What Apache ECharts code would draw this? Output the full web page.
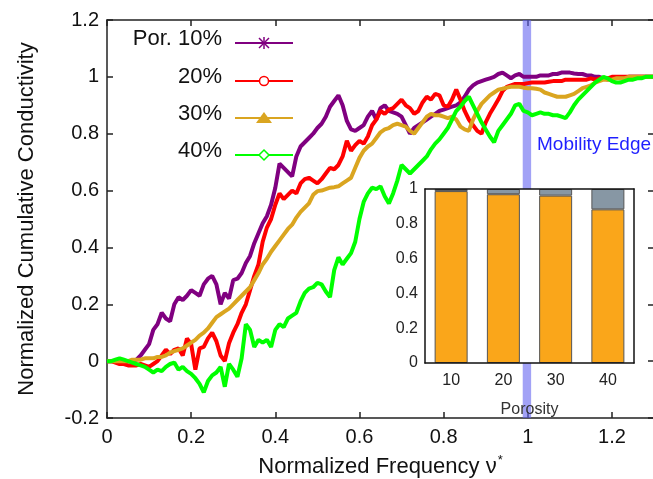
<!DOCTYPE html>
<html>
<head>
<meta charset="utf-8">
<script src="https://cdn.jsdelivr.net/npm/echarts@6/dist/echarts.min.js"></script>
<style>
html, body { margin: 0; padding: 0; background: #fff; }
#chart { width: 653px; height: 479px; }
</style>
</head>
<body>
<div id="chart"></div>
<script>
// 横轴: 归一化频率 0 ~ 1.3, 步长 0.01
var freq = [];
for (var i = 0; i <= 130; i++) {
    freq.push(i / 100);
}

// 各孔隙率的累积电导率曲线
var por10 = [0, 0, 0, 0, 0, 0, 0,
    0.005, 0.02, 0.04, 0.06, 0.11, 0.13, 0.17, 0.15, 0.14, 0.20, 0.225, 0.215, 0.23,
    0.25, 0.24, 0.23, 0.27, 0.29, 0.30, 0.27, 0.20, 0.24, 0.22, 0.285, 0.29, 0.31,
    0.345, 0.37, 0.415, 0.45, 0.485, 0.51, 0.55, 0.61, 0.695, 0.68, 0.665, 0.65,
    0.72, 0.755, 0.77, 0.785, 0.80, 0.82, 0.835, 0.86, 0.895, 0.915, 0.935, 0.90,
    0.845, 0.815, 0.81, 0.82, 0.83, 0.86, 0.88, 0.85, 0.89, 0.90, 0.88, 0.875,
    0.87, 0.86, 0.83, 0.80, 0.82, 0.83, 0.84, 0.85, 0.86, 0.87, 0.88, 0.885, 0.89,
    0.895, 0.90, 0.91, 0.93, 0.955, 0.97, 0.98, 0.985, 0.99, 0.995, 1.0, 1.01,
    1.015, 1.005, 0.995, 1.005, 1.01, 1.0, 1.0, 1.0, 1.0, 1.005, 1.005, 1.005,
    1.01, 1.01, 1.015, 1.015, 1.015, 1.012, 1.01, 1.01, 1.005, 1.005, 1.0, 1.0,
    0.995, 0.99, 0.995, 1.0, 0.995, 0.995,
    1.0, 1.0, 1.0, 1.0, 1.0, 1.0, 1.0];
var por20 = [0, 0, -0.005, -0.01, -0.01, -0.015, -0.015, -0.015, -0.01, -0.015,
    -0.02, -0.01, 0.0, 0.02, 0.04, 0.025, 0.04, 0.045, 0.02, 0.08, 0.06, -0.03,
    0.045, 0.05, 0.08, 0.10, 0.07, 0.02, 0.0, 0.063, 0.10, 0.13, 0.17, 0.20, 0.25,
    0.30, 0.34, 0.42, 0.47, 0.50, 0.55, 0.59, 0.57, 0.585, 0.60, 0.59, 0.625, 0.64,
    0.645, 0.635, 0.625, 0.64, 0.66, 0.68, 0.675, 0.69, 0.72, 0.775, 0.74, 0.76,
    0.775, 0.765, 0.79, 0.83, 0.85, 0.88, 0.87, 0.885, 0.89, 0.905, 0.92, 0.90,
    0.89, 0.87, 0.88, 0.91, 0.93, 0.92, 0.94, 0.935, 0.90, 0.895, 0.92, 0.955,
    0.92, 0.88, 0.85, 0.83, 0.81, 0.80, 0.84, 0.87, 0.895, 0.92, 0.95, 0.965, 0.97,
    0.975, 0.975, 0.975, 0.978, 0.98, 0.98, 0.98, 0.98, 0.983, 0.985, 0.985, 0.985,
    0.99, 0.99, 0.99, 0.99, 0.99, 0.99, 0.995, 0.99, 0.995, 0.995, 0.995,
    1.0, 1.0, 1.0, 1.0, 1.0, 1.0, 1.0, 1.0, 1.0, 1.0, 1.0];
var por30 = [0, 0, 0, 0, 0, 0, 0.005, 0.005, 0.005, 0.01, 0.01, 0.01, 0.015, 0.015,
    0.02, 0.03, 0.035, 0.04, 0.045, 0.055, 0.065, 0.075, 0.09, 0.10, 0.115, 0.135,
    0.155, 0.165, 0.175, 0.185, 0.20, 0.215, 0.23, 0.245, 0.26, 0.285, 0.31, 0.34,
    0.36, 0.385, 0.405, 0.425, 0.445, 0.465, 0.48, 0.505, 0.525, 0.54, 0.555, 0.585,
    0.598, 0.60, 0.605, 0.61, 0.612, 0.615, 0.625, 0.635, 0.645, 0.68, 0.715, 0.74,
    0.755, 0.765, 0.785, 0.805, 0.815, 0.82, 0.83, 0.835, 0.83, 0.825, 0.81, 0.80,
    0.82, 0.84, 0.86, 0.87, 0.865, 0.865, 0.86, 0.855, 0.86, 0.85, 0.825, 0.815,
    0.81, 0.85, 0.88, 0.905, 0.92, 0.935, 0.945, 0.955, 0.958, 0.962, 0.965, 0.965,
    0.965, 0.962, 0.96, 0.96, 0.958, 0.955, 0.945, 0.94, 0.935, 0.93, 0.93, 0.93,
    0.935, 0.94, 0.95, 0.96, 0.965, 0.97, 0.98, 0.985, 0.99, 0.99, 0.99, 0.995,
    0.995, 0.995, 1.0, 1.0, 1.0, 1.0, 1.0, 1.0, 1.0];
var por40 = [0, 0, 0.005, 0.01, 0.005, 0.0, -0.005, -0.01, -0.015, -0.02, -0.03,
    -0.04, -0.03, -0.035, -0.02, -0.01, -0.005, -0.03, -0.02, -0.035, -0.045, -0.06,
    -0.08, -0.11, -0.07, -0.05, -0.04, -0.02, -0.09, -0.01, -0.03, -0.055, 0.01,
    0.13, 0.11, 0.05, 0.075, 0.065, 0.075, 0.05, 0.11, 0.13, 0.12, 0.15, 0.16, 0.17,
    0.21, 0.24, 0.255, 0.26, 0.275, 0.27, 0.245, 0.225, 0.32, 0.365, 0.34, 0.36,
    0.38, 0.42, 0.50, 0.56, 0.59, 0.61, 0.605, 0.615, 0.58, 0.555, 0.59, 0.635,
    0.69, 0.675, 0.66, 0.675, 0.69, 0.705, 0.72, 0.745, 0.765, 0.78, 0.80, 0.82,
    0.85, 0.88, 0.895, 0.915, 0.93, 0.90, 0.87, 0.84, 0.815, 0.79, 0.77, 0.81, 0.83,
    0.85, 0.87, 0.90, 0.905, 0.88, 0.875, 0.865, 0.87, 0.875, 0.87, 0.87, 0.865,
    0.865, 0.86, 0.855, 0.875, 0.90, 0.92, 0.935, 0.95, 0.965, 0.98, 0.99, 1.0,
    0.995, 0.985, 0.98, 0.98, 0.985, 0.99, 0.99, 0.995, 0.995, 1.0, 1.0, 1.0];

// 迁移率边 (竖带)
var mobilityEdge = [0.988, 1.008];

// 插图: 各孔隙率下迁移率边以下/以上的占比
var porosity = ['10', '20', '30', '40'];
var belowEdge = [0.988, 0.97, 0.962, 0.883];
var aboveEdge = [0.012, 0.03, 0.038, 0.117];

var seriesNames = ['Por. 10%', '20%', '30%', '40%'];
var seriesColors = ['#800080', '#ff0000', '#daa520', '#00ff00'];
var seriesValues = [por10, por20, por30, por40];

var chart = echarts.init(document.getElementById('chart'));

function pairs(vals) {
    var out = [];
    for (var i = 0; i < freq.length; i++) {
        out.push([freq[i], vals[i]]);
    }
    return out;
}

var axisColor = '#222';
var fontFamily = '"Liberation Sans", Arial, sans-serif';

var series = [];
for (var k = 0; k < seriesValues.length; k++) {
    series.push({
        name: seriesNames[k],
        type: 'line',
        xAxisIndex: 0,
        yAxisIndex: 0,
        data: pairs(seriesValues[k]),
        showSymbol: false,
        symbol: 'none',
        z: 2,
        lineStyle: { color: seriesColors[k], width: 4 },
        animation: false
    });
}

// 迁移率边竖带
series.push({
    type: 'line',
    xAxisIndex: 0,
    yAxisIndex: 0,
    data: [],
    z: 3,
    silent: true,
    markArea: {
        silent: true,
        itemStyle: { color: 'rgba(100,100,240,0.6)' },
        data: [[{ xAxis: mobilityEdge[0] }, { xAxis: mobilityEdge[1] }]]
    }
});

// 插图柱状图
series.push({
    type: 'bar',
    xAxisIndex: 2,
    yAxisIndex: 2,
    stack: 'p',
    barWidth: 33,
    z: 5,
    data: belowEdge,
    itemStyle: { color: '#faa61a', borderColor: '#555', borderWidth: 1 },
    animation: false
});
series.push({
    type: 'bar',
    xAxisIndex: 2,
    yAxisIndex: 2,
    stack: 'p',
    barWidth: 33,
    z: 5,
    data: aboveEdge,
    itemStyle: { color: '#8797a4', borderColor: '#555', borderWidth: 1 },
    animation: false
});

// 图例 (文字在左, 线和标记在右)
var legendRows = [43, 81, 118, 155];
var legendEls = [];
for (var r = 0; r < 4; r++) {
    var y = legendRows[r];
    legendEls.push({
        type: 'text', z: 10,
        x: 222, y: y - 4,
        style: { text: seriesNames[r], font: '22px ' + fontFamily, fill: '#111', align: 'right', verticalAlign: 'middle' }
    });
    legendEls.push({
        type: 'line', z: 10,
        shape: { x1: 235, y1: y, x2: 293, y2: y },
        style: { stroke: seriesColors[r], lineWidth: 2 }
    });
}
// 标记
legendEls.push({ type: 'line', z: 11, shape: { x1: 264, y1: 37, x2: 264, y2: 49 }, style: { stroke: seriesColors[0], lineWidth: 1.5 } });
legendEls.push({ type: 'line', z: 11, shape: { x1: 259, y1: 38, x2: 269, y2: 48 }, style: { stroke: seriesColors[0], lineWidth: 1.5 } });
legendEls.push({ type: 'line', z: 11, shape: { x1: 259, y1: 48, x2: 269, y2: 38 }, style: { stroke: seriesColors[0], lineWidth: 1.5 } });
legendEls.push({ type: 'circle', z: 11, shape: { cx: 264, cy: 81, r: 4.5 }, style: { fill: '#fff', stroke: seriesColors[1], lineWidth: 1.5 } });
legendEls.push({ type: 'polygon', z: 11, shape: { points: [[256, 123], [272, 123], [264, 112]] }, style: { fill: seriesColors[2] } });
legendEls.push({ type: 'polygon', z: 11, shape: { points: [[264, 150], [269, 155], [264, 160], [259, 155]] }, style: { fill: '#fff', stroke: seriesColors[3], lineWidth: 1.5 } });

var graphics = [
    // 插图白底, 盖住竖带
    { type: 'rect', z: 4, shape: { x: 425, y: 189, width: 209, height: 174 }, style: { fill: '#fff' } },
    { type: 'text', z: 10, x: 537, y: 145,
      style: { text: 'Mobility Edge', font: '19px ' + fontFamily, fill: '#1f1fff', verticalAlign: 'middle' } }
].concat(legendEls);

var option = {
    animation: false,
    backgroundColor: '#fff',
    textStyle: { fontFamily: fontFamily },
    grid: [
        { left: 107, top: 20, width: 547, bottom: 61, outerBoundsMode: 'none', containLabel: false },
        { left: 425, top: 189, width: 209, height: 174, outerBoundsMode: 'none', containLabel: false }
    ],
    xAxis: [{
        type: 'value', gridIndex: 0, min: 0, max: 1.3, interval: 0.2,
        position: 'bottom',
        name: 'Normalized Frequency ν{sup|*}',
        nameLocation: 'middle', nameGap: 36,
        nameTextStyle: {
            fontSize: 22, color: '#111', fontFamily: fontFamily,
            rich: { sup: { fontSize: 13, verticalAlign: 'top', padding: [0, 0, 12, 1], color: '#111' } }
        },
        axisLine: { onZero: false, lineStyle: { color: axisColor, width: 1.5 } },
        axisTick: { inside: true, length: 6, lineStyle: { color: axisColor, width: 1.5 } },
        axisLabel: { fontSize: 20, color: '#111', margin: 9, showMaxLabel: false },
        splitLine: { show: false }
    }, {
        type: 'value', gridIndex: 0, min: 0, max: 1.3, interval: 0.2,
        position: 'top',
        axisLine: { onZero: false, lineStyle: { color: axisColor, width: 1.5 } },
        axisTick: { inside: true, length: 6, lineStyle: { color: axisColor, width: 1.5 } },
        axisLabel: { show: false },
        splitLine: { show: false }
    }, {
        type: 'category', gridIndex: 1, data: porosity, position: 'bottom', z: 6,
        name: 'Porosity', nameLocation: 'middle', nameGap: 39,
        nameTextStyle: { fontSize: 16, color: '#333' },
        axisLine: { onZero: false, lineStyle: { color: '#111', width: 1.5 } },
        axisTick: { show: false },
        axisLabel: { fontSize: 16, color: '#222', margin: 10 },
        splitLine: { show: false }
    }, {
        type: 'category', gridIndex: 1, data: porosity, position: 'top', z: 6,
        axisLine: { onZero: false, lineStyle: { color: '#111', width: 1.5 } },
        axisTick: { show: false },
        axisLabel: { show: false },
        splitLine: { show: false }
    }],
    yAxis: [{
        type: 'value', gridIndex: 0, min: -0.2, max: 1.2, interval: 0.2,
        position: 'left',
        name: 'Normalized Cumulative Conductivity',
        nameLocation: 'middle', nameGap: 69,
        nameTextStyle: { fontSize: 22, color: '#111' },
        axisLine: { onZero: false, lineStyle: { color: axisColor, width: 1.5 } },
        axisTick: { inside: true, length: 6, lineStyle: { color: axisColor, width: 1.5 } },
        axisLabel: { fontSize: 20, color: '#111', margin: 8 },
        splitLine: { show: false }
    }, {
        type: 'value', gridIndex: 0, min: -0.2, max: 1.2, interval: 0.2,
        position: 'right',
        axisLine: { onZero: false, lineStyle: { color: axisColor, width: 1.5 } },
        axisTick: { inside: true, length: 6, lineStyle: { color: axisColor, width: 1.5 } },
        axisLabel: { show: false },
        splitLine: { show: false }
    }, {
        type: 'value', gridIndex: 1, min: 0, max: 1, interval: 0.2,
        position: 'left', z: 6,
        axisLine: { show: true, onZero: false, lineStyle: { color: '#111', width: 1.5 } },
        axisTick: { show: false },
        axisLabel: { fontSize: 16, color: '#222', margin: 7 },
        splitLine: { show: false }
    }, {
        type: 'value', gridIndex: 1, min: 0, max: 1, interval: 0.2,
        position: 'right', z: 6,
        axisLine: { show: true, onZero: false, lineStyle: { color: '#111', width: 1.5 } },
        axisTick: { show: false },
        axisLabel: { show: false },
        splitLine: { show: false }
    }],
    graphic: graphics,
    series: series
};

chart.setOption(option);
</script>
</body>
</html>
